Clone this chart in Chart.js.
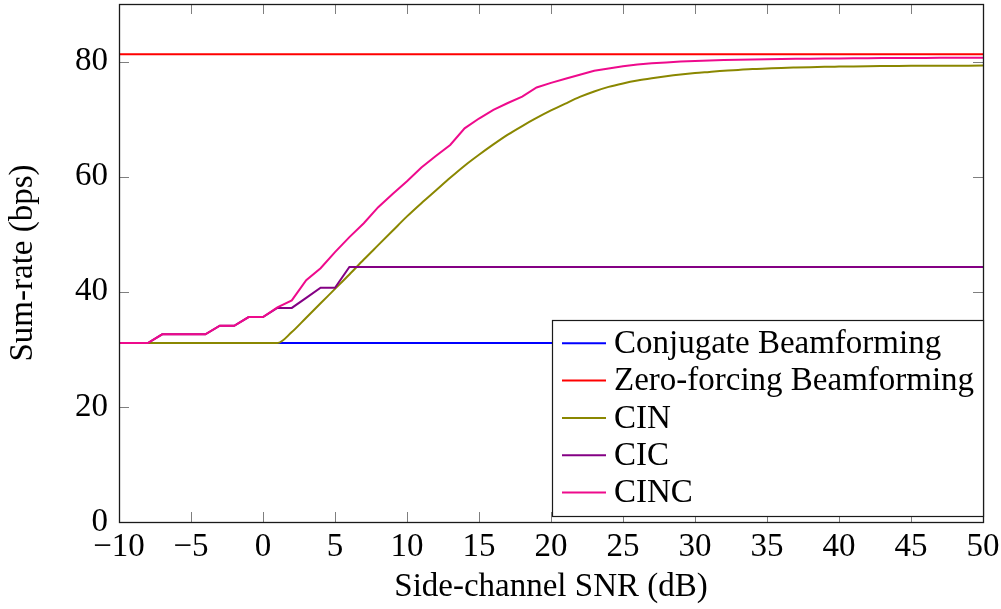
<!DOCTYPE html>
<html>
<head>
<meta charset="utf-8">
<script src="https://cdn.jsdelivr.net/npm/chart.js@4.4.1/dist/chart.umd.min.js"></script>
<style>
  html, body { margin: 0; padding: 0; background: #ffffff; }
  #wrap { width: 1001px; height: 609px; }
</style>
</head>
<body>
<div id="wrap"><canvas id="c" width="1001" height="609"></canvas></div>
<script>
// ---- data ----
const snr = [-10,-9,-8,-7,-6,-5,-4,-3,-2,-1,0,1,2,3,4,5,6,7,8,9,10,
             11,12,13,14,15,16,17,18,19,20,21,22,23,24,25,26,27,28,29,30,
             31,32,33,34,35,36,37,38,39,40,41,42,43,44,45,46,47,48,49,50];

const conjSnr = [-10, 50];
const conjRate = [31.1, 31.1];

const zfSnr = [-10, 50];
const zfRate = [81.25, 81.25];

const cinRate = [31.1,31.1,31.1,31.1,31.1,31.1,31.1,31.1,31.1,31.1,31.1,31.1,
                 33.0,35.5,38.0,40.5,43.0,45.6,48.1,50.6,53.1,
                 55.4,57.6,59.8,61.9,63.8,65.6,67.3,68.8,70.2,71.5,
                 72.7,73.85,74.8,75.6,76.2,76.7,77.1,77.45,77.75,78.0,
                 78.2,78.4,78.55,78.7,78.8,78.9,78.97,79.03,79.08,79.12,
                 79.16,79.19,79.21,79.23,79.25,79.26,79.27,79.28,79.29,79.3];

const cicRate = [31.1,31.1,31.1,32.6,32.6,32.6,32.6,34.1,34.1,35.6,35.6,
                 37.2,37.2,38.95,40.7,40.7,44.3,44.3,44.3,44.3,44.3,
                 44.3,44.3,44.3,44.3,44.3,44.3,44.3,44.3,44.3,44.3,
                 44.3,44.3,44.3,44.3,44.3,44.3,44.3,44.3,44.3,44.3,
                 44.3,44.3,44.3,44.3,44.3,44.3,44.3,44.3,44.3,44.3,
                 44.3,44.3,44.3,44.3,44.3,44.3,44.3,44.3,44.3,44.3];

const cincRate = [31.1,31.1,31.1,32.6,32.6,32.6,32.6,34.1,34.1,35.6,35.6,
                  37.3,38.5,42.0,44.1,46.9,49.5,51.9,54.7,57.0,59.2,
                  61.6,63.6,65.5,68.4,70.1,71.6,72.8,73.9,75.5,76.3,
                  77.0,77.7,78.4,78.8,79.2,79.5,79.7,79.85,80.0,80.1,
                  80.2,80.25,80.3,80.35,80.4,80.45,80.48,80.5,80.52,80.55,
                  80.57,80.58,80.6,80.6,80.62,80.63,80.64,80.65,80.65,80.66];

const seriesLabels = ['Conjugate Beamforming', 'Zero-forcing Beamforming', 'CIN', 'CIC', 'CINC'];
const seriesColors = ['#0000ff', '#ff0000', '#8a8700', '#840084', '#ee0a8c'];

const xTickValues = [-10,-5,0,5,10,15,20,25,30,35,40,45,50];
const yTickValues = [0,20,40,60,80];

const xTitle = 'Side-channel SNR (dB)';
const yTitle = 'Sum-rate (bps)';

// ---- build datasets ----
function pts(xs, ys) { return xs.map((x, i) => ({ x: x, y: ys[i] })); }
const seriesData = [
  pts(conjSnr, conjRate),
  pts(zfSnr, zfRate),
  pts(snr, cinRate),
  pts(snr, cicRate),
  pts(snr, cincRate)
];

const FONT = '"Liberation Serif", "Times New Roman", serif';

const datasets = seriesData.map((d, i) => ({
  label: seriesLabels[i],
  data: d,
  borderColor: seriesColors[i],
  backgroundColor: seriesColors[i],
  borderWidth: 2,
  pointRadius: 0,
  pointHoverRadius: 0,
  tension: 0,
  cubicInterpolationMode: i === 2 ? 'monotone' : 'default',
  fill: false,
  order: seriesLabels.length - i   // later series drawn on top
}));

const framePlugin = {
  id: 'frame',
  afterDatasetsDraw(chart) {
    const { ctx, chartArea: a, scales } = chart;
    ctx.save();
    // tick marks (inside, mirrored)
    ctx.strokeStyle = '#7f7f7f';
    ctx.lineWidth = 1;
    const tl = 10;
    scales.x.ticks.forEach(t => {
      const px = Math.round(scales.x.getPixelForValue(t.value)) + 0.5;
      ctx.beginPath();
      ctx.moveTo(px, a.bottom); ctx.lineTo(px, a.bottom - tl);
      ctx.moveTo(px, a.top); ctx.lineTo(px, a.top + tl);
      ctx.stroke();
    });
    scales.y.ticks.forEach(t => {
      const py = Math.round(scales.y.getPixelForValue(t.value)) + 0.5;
      ctx.beginPath();
      ctx.moveTo(a.left, py); ctx.lineTo(a.left + tl, py);
      ctx.moveTo(a.right, py); ctx.lineTo(a.right - tl, py);
      ctx.stroke();
    });
    // frame
    ctx.strokeStyle = '#1a1a1a';
    ctx.lineWidth = 1.3;
    ctx.strokeRect(a.left + 0.5, a.top + 0.5, a.right - a.left, a.bottom - a.top);
    ctx.restore();
  },
  afterDraw(chart) {
    const { ctx, chartArea: a } = chart;
    ctx.save();
    const bx = 552.5, by = 320.5, bw = a.right - 552.5 + 0.5, bh = 196;
    ctx.fillStyle = '#ffffff';
    ctx.fillRect(bx, by, bw, bh);
    ctx.strokeStyle = '#1a1a1a';
    ctx.lineWidth = 1.2;
    ctx.strokeRect(bx, by, bw, bh);
    const rowH = 37.3;
    const y0 = 343.3;
    ctx.font = '33px ' + FONT;
    ctx.textBaseline = 'middle';
    ctx.textAlign = 'left';
    chart.data.datasets.forEach((ds, i) => {
      const y = y0 + i * rowH;
      ctx.strokeStyle = ds.borderColor;
      ctx.lineWidth = 2;
      ctx.beginPath();
      ctx.moveTo(562, y); ctx.lineTo(606, y);
      ctx.stroke();
      ctx.fillStyle = '#000000';
      ctx.fillText(ds.label, 614, y + 1);
    });
    ctx.restore();
  }
};

new Chart(document.getElementById('c'), {
  type: 'line',
  data: { datasets: datasets },
  options: {
    responsive: false,
    animation: false,
    devicePixelRatio: 1,
    events: [],
    layout: { padding: { top: 4, right: 18, left: 0, bottom: 0 } },
    plugins: {
      legend: { display: false },
      tooltip: { enabled: false }
    },
    scales: {
      x: {
        type: 'linear',
        min: -10, max: 50,
        afterBuildTicks: s => { s.ticks = xTickValues.map(v => ({ value: v })); },
        afterFit: s => {
          s.height = 87;
          s.paddingLeft = 0; s.paddingRight = 0; s.paddingTop = 0; s.paddingBottom = 0;
        },
        grid: { display: false, drawTicks: false },
        border: { display: false },
        ticks: {
          autoSkip: false, maxRotation: 0, padding: 6,
          color: '#000', font: { family: FONT, size: 33 },
          callback: v => (v < 0 ? '\u2212' + (-v) : String(v))
        },
        title: {
          display: true, text: xTitle, color: '#000',
          font: { family: FONT, size: 33 },
          padding: { top: 0, bottom: 2 }
        }
      },
      y: {
        type: 'linear',
        min: 0, max: 90,
        afterBuildTicks: s => { s.ticks = yTickValues.map(v => ({ value: v })); },
        afterFit: s => {
          s.width = 119;
          s.paddingLeft = 0; s.paddingRight = 0; s.paddingTop = 0; s.paddingBottom = 0;
        },
        grid: { display: false, drawTicks: false },
        border: { display: false },
        ticks: {
          autoSkip: false, padding: 11,
          color: '#000', font: { family: FONT, size: 33 },
          callback: v => String(v)
        },
        title: {
          display: true, text: yTitle, color: '#000',
          font: { family: FONT, size: 33 },
          padding: { top: 4, bottom: 0 }
        }
      }
    }
  },
  plugins: [framePlugin]
});
</script>
</body>
</html>
